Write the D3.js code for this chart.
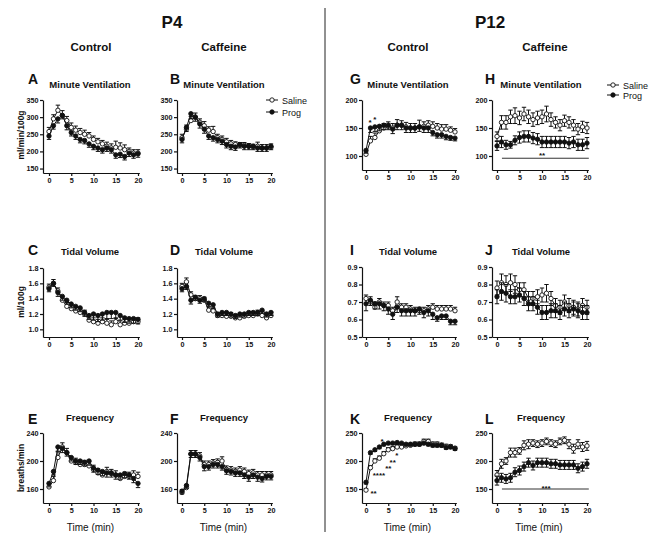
<!DOCTYPE html>
<html>
<head>
<meta charset="utf-8">
<script src="https://cdn.jsdelivr.net/npm/d3@7"></script>
<style>
  body { margin: 0; background: #fff; }
  text { font-family: Arial, "Liberation Sans", sans-serif; fill: #111; }
</style>
</head>
<body>
<div id="chart"></div>
<script>
// Respiratory time courses, P4 vs P12, Saline vs Prog

let time = [0,1,2,3,4,5,6,7,8,9,10,11,12,13,14,15,16,17,18,19,20];
let xTicks = [0, 5, 10, 15, 20];

// Minute ventilation (ml/min/100g)
let A_saline    = [258,295,320,305,290,270,262,255,250,245,235,228,222,215,210,212,210,205,200,195,195];
let A_salineSem = [12,12,15,14,12,13,12,12,12,10,10,10,10,12,12,18,15,14,10,10,10];
let A_prog      = [245,275,295,305,275,255,245,235,232,222,215,210,205,210,205,190,192,185,195,190,193];
let A_progSem   = [10,10,12,10,12,10,10,10,10,10,10,10,10,10,10,10,10,10,10,10,10];

let B_saline    = [240,265,290,300,285,275,262,258,240,235,228,222,220,218,218,215,213,215,210,210,212];
let B_salineSem = [10,12,12,12,10,12,10,15,10,10,10,10,8,8,8,8,8,12,10,10,10];
let B_prog      = [235,270,310,300,280,265,245,240,235,230,220,215,213,220,215,215,215,210,210,210,215];
let B_progSem   = [10,12,15,12,12,12,10,10,10,10,10,10,10,10,10,10,10,10,10,10,10];

let G_saline    = [103,127,133,145,150,153,150,155,155,152,150,150,152,153,155,153,150,148,148,146,143];
let G_salineSem = [4,8,8,8,8,8,8,10,8,8,8,8,12,8,8,8,8,8,8,6,6];
let G_prog      = [110,150,152,153,155,155,148,155,155,150,150,150,152,150,150,142,138,138,135,133,132];
let G_progSem   = [5,8,8,8,8,8,8,8,8,8,8,8,8,8,8,6,6,6,6,5,5];

let H_saline    = [135,160,160,170,172,168,175,170,165,168,170,175,165,160,155,163,160,155,148,152,150];
let H_salineSem = [8,12,12,12,14,12,12,12,12,12,12,14,12,10,10,10,10,10,10,10,10];
let H_prog      = [118,125,120,120,128,133,135,135,132,130,125,125,125,125,125,125,123,125,120,120,123];
let H_progSem   = [8,10,8,6,8,10,10,10,10,10,10,10,10,10,10,10,10,10,10,10,10];

// Tidal volume (ml/100g)
let C_saline    = [1.55,1.60,1.50,1.38,1.30,1.27,1.24,1.22,1.20,1.12,1.10,1.08,1.10,1.08,1.06,1.10,1.06,1.08,1.08,1.10,1.10];
let C_salineSem = [0.04,0.05,0.04,0.05,0.05,0.05,0.05,0.05,0.05,0.05,0.05,0.05,0.05,0.05,0.05,0.05,0.05,0.05,0.05,0.05,0.05];
let C_prog      = [1.53,1.60,1.48,1.43,1.38,1.33,1.30,1.28,1.22,1.18,1.20,1.18,1.20,1.22,1.22,1.22,1.18,1.15,1.14,1.14,1.13];
let C_progSem   = [0.04,0.04,0.05,0.05,0.05,0.05,0.05,0.05,0.05,0.05,0.08,0.08,0.08,0.08,0.08,0.08,0.06,0.06,0.06,0.06,0.06];

let D_saline    = [1.56,1.62,1.45,1.40,1.40,1.38,1.25,1.24,1.18,1.18,1.17,1.17,1.15,1.15,1.17,1.18,1.18,1.20,1.18,1.15,1.18];
let D_salineSem = [0.04,0.05,0.04,0.04,0.04,0.04,0.04,0.04,0.04,0.04,0.05,0.05,0.04,0.04,0.04,0.05,0.05,0.05,0.05,0.04,0.05];
let D_prog      = [1.53,1.56,1.38,1.42,1.38,1.40,1.34,1.32,1.20,1.22,1.22,1.20,1.18,1.20,1.20,1.22,1.22,1.22,1.25,1.20,1.22];
let D_progSem   = [0.04,0.04,0.05,0.04,0.04,0.04,0.04,0.05,0.04,0.04,0.04,0.04,0.04,0.04,0.04,0.04,0.04,0.04,0.04,0.04,0.04];

let I_saline    = [0.72,0.70,0.67,0.70,0.68,0.68,0.65,0.70,0.67,0.67,0.66,0.65,0.65,0.65,0.66,0.67,0.66,0.66,0.66,0.66,0.65];
let I_salineSem = [0.02,0.03,0.03,0.02,0.02,0.02,0.02,0.03,0.02,0.02,0.02,0.02,0.02,0.02,0.02,0.02,0.02,0.02,0.02,0.02,0.02];
let I_prog      = [0.69,0.71,0.69,0.69,0.68,0.66,0.63,0.67,0.65,0.65,0.65,0.65,0.66,0.64,0.65,0.63,0.61,0.62,0.62,0.59,0.59];
let I_progSem   = [0.04,0.03,0.03,0.03,0.03,0.03,0.03,0.03,0.03,0.03,0.03,0.03,0.03,0.03,0.03,0.03,0.02,0.02,0.02,0.02,0.02];

let J_saline    = [0.78,0.81,0.80,0.81,0.80,0.77,0.77,0.72,0.72,0.73,0.74,0.75,0.72,0.68,0.67,0.70,0.68,0.67,0.66,0.68,0.67];
let J_salineSem = [0.04,0.05,0.05,0.05,0.05,0.04,0.04,0.04,0.04,0.04,0.04,0.05,0.04,0.04,0.04,0.04,0.04,0.04,0.04,0.04,0.04];
let J_prog      = [0.73,0.76,0.75,0.73,0.73,0.74,0.72,0.69,0.69,0.67,0.64,0.64,0.65,0.65,0.64,0.66,0.65,0.66,0.65,0.64,0.64];
let J_progSem   = [0.04,0.05,0.05,0.04,0.04,0.04,0.04,0.04,0.04,0.04,0.04,0.04,0.04,0.04,0.04,0.04,0.04,0.04,0.04,0.04,0.04];

// Frequency (breaths/min)
let E_saline    = [163,172,205,220,212,200,198,195,195,193,188,183,180,185,182,180,175,178,178,180,178];
let E_salineSem = [5,6,8,6,6,6,6,6,6,6,6,6,6,6,6,6,6,6,6,6,6];
let E_prog      = [168,185,220,218,212,205,200,200,198,200,190,187,185,183,183,180,180,182,180,175,168];
let E_progSem   = [5,5,6,6,5,5,5,5,5,6,6,6,6,6,6,6,6,6,6,6,6];

let F_saline    = [155,162,210,210,207,195,195,197,198,200,188,187,185,187,185,182,183,180,180,180,180];
let F_salineSem = [4,4,5,5,5,5,5,5,5,6,5,5,5,5,5,5,5,5,5,5,5];
let F_prog      = [157,165,210,210,205,192,192,195,195,192,186,185,183,183,180,177,180,177,175,178,178];
let F_progSem   = [4,4,5,5,5,6,5,5,5,5,5,5,5,5,5,6,5,6,5,5,5];

let K_saline    = [148,188,200,205,213,220,222,225,225,227,228,230,230,235,235,230,230,228,226,226,223];
let K_salineSem = [3,4,4,4,4,4,4,4,4,4,4,4,4,4,4,4,4,4,4,3,3];
let K_prog      = [162,215,220,225,230,232,232,233,232,230,230,230,230,232,230,228,228,228,224,225,222];
let K_progSem   = [3,3,3,3,3,3,3,3,3,3,3,3,3,3,3,3,3,3,3,3,3];

let L_saline    = [175,195,200,215,215,218,228,230,232,230,232,235,232,230,235,237,230,222,230,225,227];
let L_salineSem = [8,8,6,8,8,6,8,8,6,6,6,6,6,6,6,6,8,8,8,8,8];
let L_prog      = [165,170,168,170,180,183,190,197,192,197,197,197,195,195,193,193,193,193,187,190,195];
let L_progSem   = [8,8,8,8,8,8,8,8,8,8,8,8,8,8,8,8,8,8,8,8,8];

// significance marks: [time, value, text]
let G_stars = [[0.9, 164, "*"], [2.0, 168, "*"]];
let H_stars = [[10, 105, "**"]];
let H_bar   = 96;
let K_stars = [[1.7, 146, "**"], [2.9, 178, "****"], [5.0, 190, "**"], [6.0, 201, "**"], [6.9, 213, "*"], [3.6, 239, "*"]];
let L_stars = [[10.9, 155, "***"]];
let L_bar   = 150;

////////////////////////////////////////////////////////////////////////
// layout

let width = 651, height = 537;

let cols = [
  { axisX: 43,  x0: 49,  x20: 138, letterX: 28,  titleX: 90 },
  { axisX: 177, x0: 182, x20: 271, letterX: 170, titleX: 224 },
  { axisX: 362, x0: 366, x20: 455, letterX: 350, titleX: 408 },
  { axisX: 492, x0: 497, x20: 587, letterX: 485, titleX: 541 }
];
let rows = [
  { letterY: 84,  titleY: 88 },
  { letterY: 255, titleY: 255 },
  { letterY: 424, titleY: 421 }
];

let mvTitle = "Minute Ventilation", tvTitle = "Tidal Volume", fTitle = "Frequency";

let panels = [
  { id: "A", col: 0, row: 0, title: mvTitle, s: A_saline, ss: A_salineSem, p: A_prog, ps: A_progSem, domain: [137, 350], range: [173, 100], ticks: [150, 200, 250, 300, 350], fmt: "d" },
  { id: "B", col: 1, row: 0, title: mvTitle, s: B_saline, ss: B_salineSem, p: B_prog, ps: B_progSem, domain: [137, 350], range: [173, 100], ticks: [150, 200, 250, 300, 350], fmt: "d" },
  { id: "G", col: 2, row: 0, title: mvTitle, s: G_saline, ss: G_salineSem, p: G_prog, ps: G_progSem, domain: [75, 200], range: [170, 100], ticks: [100, 150, 200], fmt: "d", stars: G_stars },
  { id: "H", col: 3, row: 0, title: mvTitle, s: H_saline, ss: H_salineSem, p: H_prog, ps: H_progSem, domain: [75, 200], range: [170, 100], ticks: [100, 150, 200], fmt: "d", stars: H_stars, bar: H_bar, both: true },
  { id: "C", col: 0, row: 1, title: tvTitle, s: C_saline, ss: C_salineSem, p: C_prog, ps: C_progSem, domain: [0.9, 1.8], range: [337, 268], ticks: [1.0, 1.2, 1.4, 1.6, 1.8], fmt: ".1f" },
  { id: "D", col: 1, row: 1, title: tvTitle, s: D_saline, ss: D_salineSem, p: D_prog, ps: D_progSem, domain: [0.9, 1.8], range: [337, 268], ticks: [1.0, 1.2, 1.4, 1.6, 1.8], fmt: ".1f" },
  { id: "I", col: 2, row: 1, title: tvTitle, s: I_saline, ss: I_salineSem, p: I_prog, ps: I_progSem, domain: [0.5, 0.9], range: [337, 267], ticks: [0.5, 0.6, 0.7, 0.8, 0.9], fmt: ".1f" },
  { id: "J", col: 3, row: 1, title: tvTitle, s: J_saline, ss: J_salineSem, p: J_prog, ps: J_progSem, domain: [0.5, 0.9], range: [337, 267], ticks: [0.5, 0.6, 0.7, 0.8, 0.9], fmt: ".1f", both: true },
  { id: "E", col: 0, row: 2, title: fTitle, s: E_saline, ss: E_salineSem, p: E_prog, ps: E_progSem, domain: [140, 240], range: [503, 433], ticks: [160, 200, 240], fmt: "d" },
  { id: "F", col: 1, row: 2, title: fTitle, s: F_saline, ss: F_salineSem, p: F_prog, ps: F_progSem, domain: [140, 240], range: [503, 433], ticks: [160, 200, 240], fmt: "d" },
  { id: "K", col: 2, row: 2, title: fTitle, s: K_saline, ss: K_salineSem, p: K_prog, ps: K_progSem, domain: [125, 250], range: [503, 433], ticks: [150, 200, 250], fmt: "d", stars: K_stars },
  { id: "L", col: 3, row: 2, title: fTitle, s: L_saline, ss: L_salineSem, p: L_prog, ps: L_progSem, domain: [125, 250], range: [503, 433], ticks: [150, 200, 250], fmt: "d", stars: L_stars, bar: L_bar, both: true }
];

let svg = d3.select("#chart").append("svg")
  .attr("width", width)
  .attr("height", height);

// headings
svg.append("text").attr("x", 172).attr("y", 28).attr("text-anchor", "middle")
  .style("font-size", "17px").style("font-weight", "bold").text("P4");
svg.append("text").attr("x", 490).attr("y", 28).attr("text-anchor", "middle")
  .style("font-size", "17px").style("font-weight", "bold").text("P12");
[["Control", 91], ["Caffeine", 224], ["Control", 408], ["Caffeine", 545]].forEach(h => {
  svg.append("text").attr("x", h[1]).attr("y", 51).attr("text-anchor", "middle")
    .style("font-size", "11.5px").style("font-weight", "bold").text(h[0]);
});

// divider
svg.append("line").attr("x1", 325).attr("x2", 325).attr("y1", 8).attr("y2", 532)
  .attr("stroke", "#222").attr("stroke-width", 1);

// y axis labels (first column)
[["ml/min/100g", 135], ["ml/100g", 302], ["breaths/min", 468]].forEach(l => {
  svg.append("text").attr("transform", "translate(24," + l[1] + ") rotate(-90)")
    .attr("text-anchor", "middle").style("font-size", "8.5px").style("font-weight", "bold").text(l[0]);
});

function drawPanel(pn) {
  let c = cols[pn.col], r = rows[pn.row];
  let g = svg.append("g");

  let x = d3.scaleLinear().domain([0, 20]).range([c.x0, c.x20]);
  let xAxisScale = d3.scaleLinear().domain([x.invert(c.axisX), 20.3]).range([c.axisX, x(20.3)]);
  let y = d3.scaleLinear().domain(pn.domain).range(pn.range);
  let topTick = pn.ticks[pn.ticks.length - 1];

  let xAxis = g.append("g").attr("transform", "translate(0," + pn.range[0] + ")")
    .call(d3.axisBottom(xAxisScale).tickValues(xTicks).tickSize(3).tickPadding(2).tickSizeOuter(0));
  let yAxis = g.append("g").attr("transform", "translate(" + c.axisX + ",0)")
    .call(d3.axisLeft(y.copy().domain([pn.domain[0], topTick]).range([pn.range[0], y(topTick)]))
      .tickValues(pn.ticks).tickFormat(d3.format(pn.fmt)).tickSize(3).tickPadding(1.5).tickSizeOuter(0));
  [xAxis, yAxis].forEach(a => {
    a.selectAll("path, line").attr("stroke", "#111").attr("stroke-width", 1.2);
    a.selectAll("text").style("font-size", "7.2px").style("font-weight", "bold")
      .style("font-family", "Arial, 'Liberation Sans', sans-serif").attr("fill", "#111");
  });

  // letter and title
  g.append("text").attr("x", c.letterX).attr("y", r.letterY)
    .style("font-size", "14px").style("font-weight", "bold").text(pn.id);
  g.append("text").attr("x", c.titleX).attr("y", r.titleY).attr("text-anchor", "middle")
    .style("font-size", "9.5px").style("font-weight", "bold").text(pn.title);

  // series: saline (open) and prog (filled)
  let series = [
    { vals: pn.s, sem: pn.ss, fill: "#fff", up: true, down: !!pn.both },
    { vals: pn.p, sem: pn.ps, fill: "#111", up: !!pn.both, down: true }
  ];
  series.forEach(se => {
    let pts = time.map((t, i) => ({ t: t, v: se.vals[i], e: se.sem[i] }));
    let line = d3.line().x(d => x(d.t)).y(d => y(d.v));
    g.append("path").datum(pts).attr("d", line)
      .attr("fill", "none").attr("stroke", "#111").attr("stroke-width", 1);

    let eb = g.append("g").selectAll("g").data(pts).enter().append("g");
    eb.append("line")
      .attr("x1", d => x(d.t)).attr("x2", d => x(d.t))
      .attr("y1", d => y(se.down ? d.v - d.e : d.v))
      .attr("y2", d => y(se.up ? d.v + d.e : d.v))
      .attr("stroke", "#111").attr("stroke-width", 1);
    if (se.up) {
      eb.append("line")
        .attr("x1", d => x(d.t) - 2.2).attr("x2", d => x(d.t) + 2.2)
        .attr("y1", d => y(d.v + d.e)).attr("y2", d => y(d.v + d.e))
        .attr("stroke", "#111").attr("stroke-width", 1);
    }
    if (se.down) {
      eb.append("line")
        .attr("x1", d => x(d.t) - 2.2).attr("x2", d => x(d.t) + 2.2)
        .attr("y1", d => y(d.v - d.e)).attr("y2", d => y(d.v - d.e))
        .attr("stroke", "#111").attr("stroke-width", 1);
    }
    g.append("g").selectAll("circle").data(pts).enter().append("circle")
      .attr("cx", d => x(d.t)).attr("cy", d => y(d.v)).attr("r", 2.2)
      .attr("fill", se.fill).attr("stroke", "#111").attr("stroke-width", 0.9);
  });

  if (pn.bar !== undefined) {
    g.append("line").attr("x1", x(1.1)).attr("x2", x(20.4))
      .attr("y1", y(pn.bar)).attr("y2", y(pn.bar))
      .attr("stroke", "#333").attr("stroke-width", 1);
  }
  if (pn.stars) {
    g.selectAll(".star").data(pn.stars).enter().append("text")
      .attr("x", d => x(d[0])).attr("y", d => y(d[1]) + 4.5)
      .attr("text-anchor", "middle")
      .style("font-size", "8px").style("font-weight", "bold").text(d => d[2]);
  }
}

panels.forEach(drawPanel);

// x axis titles
cols.forEach(c => {
  svg.append("text").attr("x", (c.x0 + c.x20) / 2 - 3).attr("y", 531).attr("text-anchor", "middle")
    .style("font-size", "10px").text("Time (min)");
});

// legends
function legend(lx, ly, gap) {
  let items = [["Saline", "#fff"], ["Prog", "#111"]];
  items.forEach((it, i) => {
    let yy = ly + i * gap;
    svg.append("line").attr("x1", lx - 6).attr("x2", lx + 6).attr("y1", yy).attr("y2", yy)
      .attr("stroke", "#111").attr("stroke-width", 1);
    svg.append("circle").attr("cx", lx).attr("cy", yy).attr("r", 2.2)
      .attr("fill", it[1]).attr("stroke", "#111").attr("stroke-width", 0.9);
    svg.append("text").attr("x", lx + 10).attr("y", yy + 3.5)
      .style("font-size", "9px").text(it[0]);
  });
}
legend(272, 100, 12);
legend(613, 85, 10);
</script>
</body>
</html>
